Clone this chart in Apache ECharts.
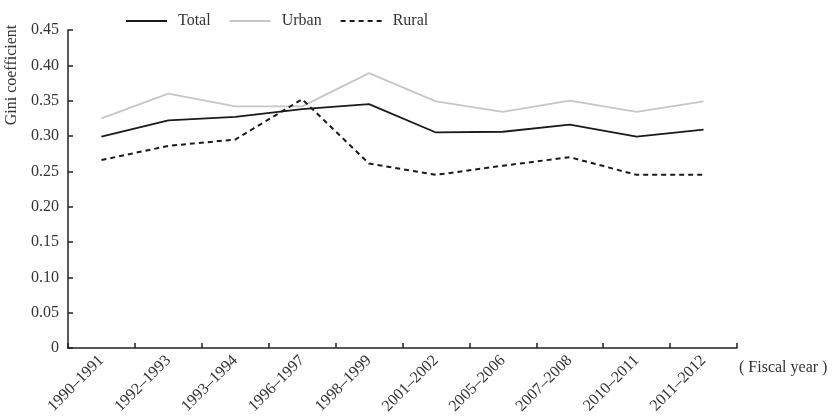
<!DOCTYPE html>
<html>
<head>
<meta charset="utf-8">
<script src="https://cdn.jsdelivr.net/npm/echarts@6/dist/echarts.min.js"></script>
<style>html,body{margin:0;padding:0;background:#fff}#c{width:837px;height:418px}</style>
</head>
<body>
<div id="c"></div>
<script>
var categories = ['1990–1991','1992–1993','1993–1994','1996–1997','1998–1999','2001–2002','2005–2006','2007–2008','2010–2011','2011–2012'];
var totalValues = [0.299, 0.322, 0.327, 0.338, 0.345, 0.305, 0.306, 0.316, 0.299, 0.309];
var urbanValues = [0.325, 0.360, 0.342, 0.342, 0.389, 0.349, 0.334, 0.350, 0.334, 0.349];
var ruralValues = [0.266, 0.286, 0.295, 0.352, 0.261, 0.245, 0.258, 0.270, 0.245, 0.245];
var yTicks = ['0','0.05','0.10','0.15','0.20','0.25','0.30','0.35','0.40','0.45'];

var font = 'Liberation Serif';
var chart = echarts.init(document.getElementById('c'));
chart.setOption({
  animation: false,
  textStyle: {fontFamily: font},
  legend: {
    left: 120, top: 8,
    itemWidth: 41, itemHeight: 14, itemGap: 18,
    itemStyle: {opacity: 0},
    textStyle: {fontFamily: font, fontSize: 16, color: '#333', padding: [0,0,0,6]},
    data: ['Total','Urban','Rural']
  },
  grid: {left: 68, right: 100, top: 30, bottom: 70, containLabel: false, outerBoundsMode: 'none'},
  xAxis: {
    type: 'category',
    data: categories,
    boundaryGap: true,
    name: '( Fiscal year )',
    nameLocation: 'end',
    nameGap: 2,
    nameTextStyle: {fontFamily: font, fontSize: 16, color: '#333', verticalAlign: 'top', padding: [12,0,0,0]},
    axisLine: {lineStyle: {color: '#222', width: 1.5}},
    axisTick: {show: true, inside: true, length: 5, lineStyle: {color: '#222', width: 1.5}},
    axisLabel: {rotate: 45, fontFamily: font, fontSize: 16, color: '#333', margin: 10, interval: 0}
  },
  yAxis: {
    type: 'value',
    min: 0, max: 0.45, interval: 0.05,
    name: 'Gini coefficient',
    nameLocation: 'middle',
    nameRotate: 90,
    nameGap: 45,
    nameTextStyle: {fontFamily: font, fontSize: 16, color: '#333', padding: [0,0,0,228]},
    axisLine: {show: true, lineStyle: {color: '#222', width: 1.5}},
    axisTick: {show: true, inside: true, length: 5, lineStyle: {color: '#222', width: 1.5}},
    splitLine: {show: false},
    axisLabel: {fontFamily: font, fontSize: 16, color: '#333', margin: 9,
      formatter: function (v) { var i = Math.round(v / 0.05); return yTicks[i]; }}
  },
  series: [
    {name: 'Total', type: 'line', data: totalValues, symbol: 'none',
     lineStyle: {color: '#1a1a1a', width: 1.8}, itemStyle: {color: '#1a1a1a'}},
    {name: 'Urban', type: 'line', data: urbanValues, symbol: 'none',
     lineStyle: {color: '#c6c6c6', width: 1.8}, itemStyle: {color: '#c6c6c6'}},
    {name: 'Rural', type: 'line', data: ruralValues, symbol: 'none',
     lineStyle: {color: '#1a1a1a', width: 2, type: [5, 4]}, itemStyle: {color: '#1a1a1a'}}
  ]
});
</script>
</body>
</html>
